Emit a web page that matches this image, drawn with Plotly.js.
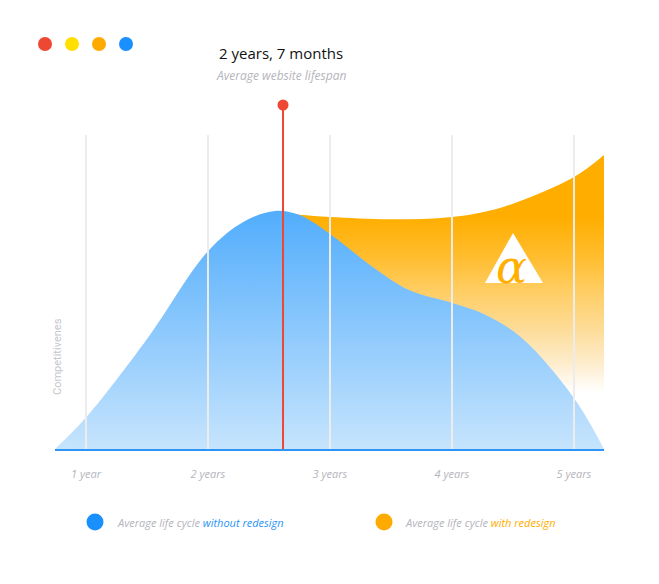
<!DOCTYPE html>
<html>
<head>
<meta charset="utf-8">
<script src="https://cdn.plot.ly/plotly-3.0.1.min.js"></script>
<style>html,body{margin:0;padding:0;background:#fff;}#chart{width:659px;height:584px;}</style>
</head>
<body>
<div id="chart"></div>
<script>
// ---- data ----
const tickVals = [1, 2, 3, 4, 5];
const tickLabels = ["1 year", "2 years", "3 years", "4 years", "5 years"];

const yearsWithout = [0.746, 1.0, 1.5, 2.0, 2.3, 2.55, 2.75, 3.0, 3.35, 3.65, 4.0, 4.26, 4.57, 5.0, 5.246];
const withoutRedesign = [0, 10, 35, 63, 72.5, 75.8, 74.5, 68.5, 58, 50.6, 46.5, 43, 35.4, 16.2, 0];

const yearsWith = [2.55, 2.75, 3.0, 3.5, 4.0, 4.42, 5.0, 5.246];
const withRedesign = [75.4, 74.6, 73.9, 73.2, 73.9, 77.1, 86.6, 93.6];

const averageLifespan = 2.615;       // years (2 years, 7 months)
const markerTop = 109.55;
const gridTop = 100;

const seriesNames = ["without redesign", "with redesign"];
const legendPrefix = "Average life cycle ";
const titleText = "2 years, 7 months";
const subtitleText = "Average website lifespan";
const yTitle = "Competitivenes";

// ---- layout helpers ----
const W = 659, H = 584, ML = 55, MR = 55, MT = 100, MB = 135;
const PW = W - ML - MR, PH = H - MT - MB;
const px = x => (x - ML) / PW;
const py = y => (H - MB - y) / PH;

const BLUE = "#1a90ff", ORANGE = "#ffaa00", RED = "#ee4733", YELLOW = "#ffe000";
const FONT = "'Open Sans', Lato, sans-serif";

const traces = [
  {
    x: yearsWith, y: withRedesign, type: "scatter", mode: "lines",
    line: {width: 0, shape: "spline", smoothing: 1},
    fill: "tozeroy",
    fillgradient: {type: "vertical", start: 18, stop: 74,
      colorscale: [[0, "#ffffff"], [0.18, "#fdebc8"], [0.36, "#fddc98"], [0.58, "#ffcd62"], [0.78, "#ffbc2c"], [1, "#ffae00"]]},
    hoverinfo: "skip", name: seriesNames[1]
  },
  {
    x: yearsWithout, y: withoutRedesign, type: "scatter", mode: "lines",
    line: {width: 0, shape: "spline", smoothing: 1},
    fill: "tozeroy",
    fillgradient: {type: "vertical", start: 0, stop: 76,
      colorscale: [[0, "#c6e4fd"], [1, "#52adfc"]]},
    hoverinfo: "skip", name: seriesNames[0]
  },
  {
    x: [averageLifespan, averageLifespan], y: [0, markerTop], type: "scatter", mode: "lines",
    line: {color: RED, width: 2}, cliponaxis: false, hoverinfo: "skip"
  },
  {
    x: [averageLifespan], y: [markerTop], type: "scatter", mode: "markers",
    marker: {size: 11, color: RED, opacity: 1, line: {width: 0}}, cliponaxis: false, hoverinfo: "skip"
  }
];

const shapes = [];
tickVals.forEach(v => shapes.push({type: "line", xref: "x", yref: "y", x0: v, x1: v, y0: 0, y1: gridTop,
  line: {color: "#ececec", width: 2}, layer: "above"}));

// top-left dots
[[45, RED], [72, YELLOW], [99, ORANGE], [126, BLUE]].forEach(([cx, c]) => shapes.push({
  type: "circle", xref: "paper", yref: "paper", xsizemode: "pixel", ysizemode: "pixel",
  xanchor: px(cx), yanchor: py(44), x0: -7, x1: 7, y0: -7, y1: 7,
  fillcolor: c, line: {width: 0}
}));
// legend dots
[[95, BLUE], [384, ORANGE]].forEach(([cx, c]) => shapes.push({
  type: "circle", xref: "paper", yref: "paper", xsizemode: "pixel", ysizemode: "pixel",
  xanchor: px(cx), yanchor: py(522), x0: -8.5, x1: 8.5, y0: -8.5, y1: 8.5,
  fillcolor: c, line: {width: 0}
}));
// logo triangle
shapes.push({type: "path", xref: "paper", yref: "paper",
  path: `M ${px(513)} ${py(233)} L ${px(485)} ${py(283)} L ${px(543)} ${py(283)} Z`,
  fillcolor: "#ffffff", line: {width: 0}, layer: "above"});

const annotations = [
  {xref: "x", yref: "paper", x: averageLifespan, y: py(53), text: titleText, showarrow: false,
   xanchor: "center", yanchor: "middle", xshift: -2, font: {family: FONT, size: 15, color: "#111111"}},
  {xref: "x", yref: "paper", x: averageLifespan, y: py(76), text: subtitleText, showarrow: false,
   xanchor: "center", yanchor: "middle", xshift: -2, font: {family: FONT, size: 12, color: "#b4b4bc", style: "italic"}},
  {xref: "paper", yref: "paper", x: px(57), y: py(357), text: yTitle, textangle: -90, showarrow: false,
   xanchor: "center", yanchor: "middle", font: {family: "Roboto, sans-serif", size: 11, color: "#c6c6cc"}},
  {xref: "paper", yref: "paper", x: px(115), y: py(522), showarrow: false, xanchor: "left", yanchor: "middle",
   text: `<span style="color:#b4b4bc">${legendPrefix}</span><span style="color:#2b95f5">${seriesNames[0]}</span>`,
   font: {family: FONT, size: 11, style: "italic"}},
  {xref: "paper", yref: "paper", x: px(403), y: py(522), showarrow: false, xanchor: "left", yanchor: "middle",
   text: `<span style="color:#b4b4bc">${legendPrefix}</span><span style="color:#ffae00">${seriesNames[1]}</span>`,
   font: {family: FONT, size: 11, style: "italic"}},
  {xref: "paper", yref: "paper", x: px(511), y: py(267), text: "α", showarrow: false,
   xanchor: "center", yanchor: "middle", font: {family: "'DejaVu Serif', serif", size: 46, color: "#ffb000", style: "italic"}}
];

const layout = {
  width: W, height: H,
  margin: {l: ML, r: MR, t: MT, b: MB, pad: 0},
  paper_bgcolor: "#ffffff", plot_bgcolor: "#ffffff",
  showlegend: false,
  xaxis: {range: [0.746, 5.246], tickvals: tickVals, ticktext: tickLabels, showgrid: false, zeroline: false,
    showline: true, linecolor: "#2e95f6", linewidth: 2, ticks: "outside", ticklen: 14, tickcolor: "rgba(0,0,0,0)",
    tickfont: {family: FONT, size: 11, color: "#b4b4bc", style: "italic"}, fixedrange: true},
  yaxis: {range: [0, PH / 3.14], showgrid: false, zeroline: false, showticklabels: false, showline: false, fixedrange: true},
  shapes: shapes,
  annotations: annotations
};

Plotly.newPlot("chart", traces, layout, {displayModeBar: false, staticPlot: true});
</script>
</body>
</html>
